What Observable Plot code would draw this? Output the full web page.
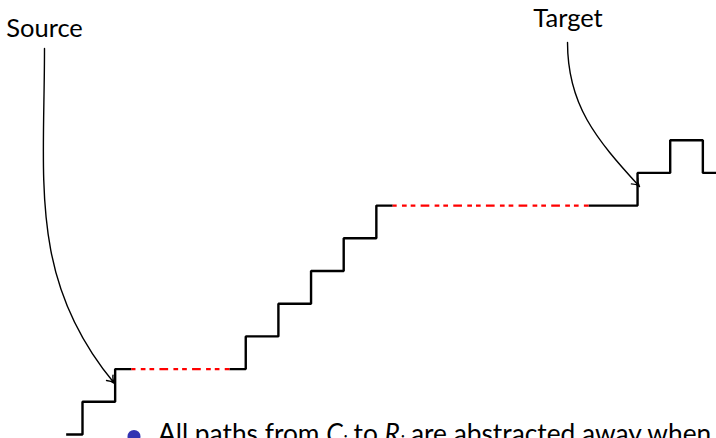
<!DOCTYPE html>
<html><head><meta charset="utf-8">
<script src="https://cdn.jsdelivr.net/npm/d3@7"></script>
<script src="https://cdn.jsdelivr.net/npm/@observablehq/plot@0.6"></script>
<style>html,body{margin:0;padding:0;background:#fff;overflow:hidden}</style>
</head><body><div id="chart"></div>
<script>
// Staircase path (grid units), three solid black pieces
const stepX = [-0.5,0,0,1,1,1.5,  4.5,5,5,6,6,7,7,8,8,9,9,9.5,  15.5,17,17,18,18,19,19,19.6];
const stepY = [0,0,1,1,2,2,       2,2,3,3,4,4,5,5,6,6,7,7,      7,7,8,8,9,9,8,8];
const stepSeg = ["a","a","a","a","a","a", "b","b","b","b","b","b","b","b","b","b","b","b", "c","c","c","c","c","c","c","c"];

// Abstracted (red dash-dot) stretches
const redX1 = [1.5, 9.5];
const redX2 = [4.5, 15.5];
const redY  = [2, 7];

// Annotation arrows: start, control 1, control 2, tip
const arrowId = ["s","s","s","s","t","t","t","t"];
const arrowX  = [-1.164,-1.164,-1.654,0.98,  14.855,14.855,15.712,17.06];
const arrowY  = [11.804,7.706,4.709,1.56,    11.988,10.092,9.052,7.584];

// Labels
const labelText = ["Source","Target"];
const labelX = [-1.164, 14.87];
const labelY = [12.42, 12.70];

// Bullet line
const bulletText = "All paths from C_i to R_i are abstracted away when";
const bulletX = 1.577, bulletY = -0.06;
const bulletTextX = 2.31, bulletTextY = -0.01;

const steps = stepX.map((x,i)=>({x, y: stepY[i], seg: stepSeg[i]}));
const reds = redX1.map((x1,i)=>({x1, x2: redX2[i], y: redY[i]}));
const arrows = arrowX.map((x,i)=>({x, y: arrowY[i], id: arrowId[i]}));
const labels = labelText.map((t,i)=>({t, x: labelX[i], y: labelY[i]}));

function bezierArrow(context) {
  let pts = [];
  return {
    areaStart(){}, areaEnd(){},
    lineStart(){ pts = []; },
    point(x,y){ pts.push([+x,+y]); },
    lineEnd(){
      if (pts.length < 4) return;
      const [p0,c1,c2,p3] = pts;
      context.moveTo(p0[0],p0[1]);
      context.bezierCurveTo(c1[0],c1[1],c2[0],c2[1],p3[0],p3[1]);
      const ang = Math.atan2(p3[1]-c2[1], p3[0]-c2[0]);
      const L = 8.5, spread = 0.52;
      for (const s of [-1,1]) {
        const a = ang + Math.PI + s*spread;
        const bx = p3[0] + L*Math.cos(a), by = p3[1] + L*Math.sin(a);
        const am = ang + Math.PI + s*spread*0.35;
        const mx = p3[0] + 0.5*L*Math.cos(am), my = p3[1] + 0.5*L*Math.sin(am);
        context.moveTo(bx,by);
        context.quadraticCurveTo(mx,my,p3[0],p3[1]);
      }
    }
  };
}

const chart = Plot.plot({
  width: 716, height: 438,
  marginTop: 0, marginRight: 0, marginBottom: 0, marginLeft: 0,
  x: {domain: [-82/32.65, 634/32.65], axis: null},
  y: {domain: [-4/32.7, 434/32.7], axis: null},
  style: {fontFamily: "Lato, sans-serif", background: "#fff", overflow: "visible"},
  marks: [
    Plot.line(steps, {x: "x", y: "y", z: "seg", stroke: "#000", strokeWidth: 2.4, strokeLinejoin: "miter", strokeLinecap: "butt"}),
    Plot.link(reds, {x1: "x1", x2: "x2", y1: "y", y2: "y", stroke: "#ff0000", strokeWidth: 2.2,
      strokeDasharray: "8.7,5.3,4.7,4,4.7,5.25", strokeDashoffset: 4.7}),
    Plot.line(arrows, {x: "x", y: "y", z: "id", curve: bezierArrow, stroke: "#000", strokeWidth: 1.4}),
    Plot.text(labels, {x: "x", y: "y", text: "t", fontSize: 25.5, fill: "#000", textAnchor: "middle"}),
    Plot.dot([0], {x: () => bulletX, y: () => bulletY, r: 6.5, fill: "#3333b2", stroke: "none"}),
    Plot.text([bulletText], {x: () => bulletTextX, y: () => bulletTextY, text: d => d, fontSize: 26.3, fill: "#000", textAnchor: "start"})
  ]
});
document.getElementById("chart").appendChild(chart);

// Typeset C_i and R_i with italic letters and subscripts
const bt = Array.from(chart.querySelectorAll("text")).find(t => t.textContent.startsWith("All paths"));
if (bt) {
  const parts = [["All paths from ", false, false], ["C", true, false], ["i", true, true], [" to ", false, false],
                 ["R", true, false], ["i", true, true], [" are abstracted away when", false, false]];
  while (bt.firstChild) bt.removeChild(bt.firstChild);
  const sel = d3.select(bt);
  let prevSub = false;
  for (const [s, it, sub] of parts) {
    const ts = sel.append("tspan").text(s);
    if (it) ts.attr("font-style", "italic");
    if (sub) ts.attr("font-size", "0.7em").attr("dy", "0.3em");
    else if (prevSub) ts.attr("dy", "-0.21em");
    prevSub = sub;
  }
}
</script></body></html>
